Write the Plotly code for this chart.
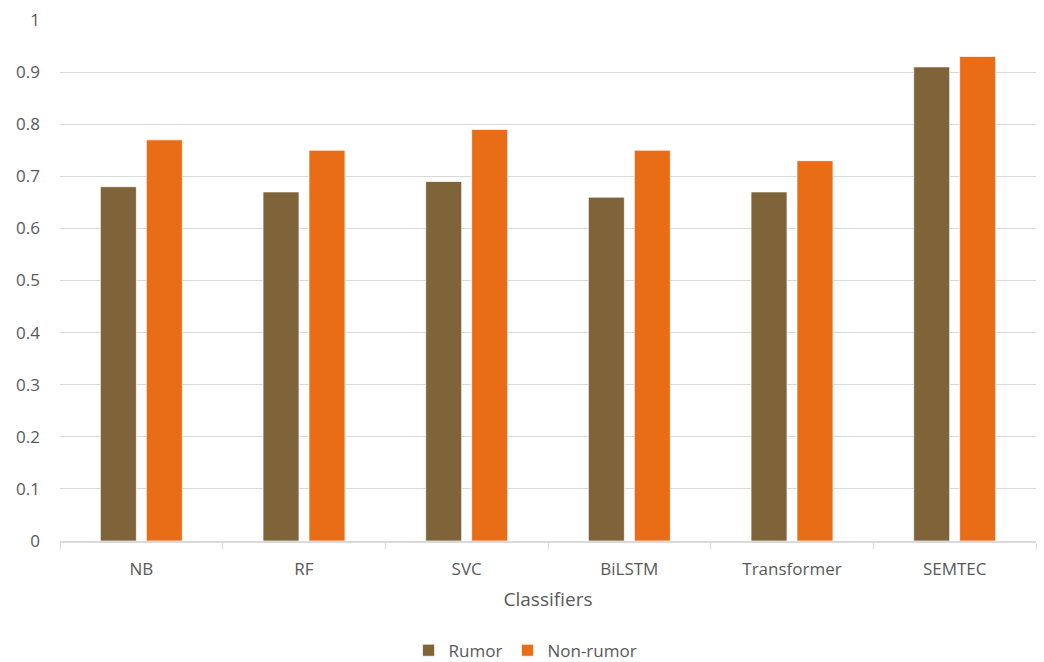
import plotly.graph_objects as go

classifiers = ["NB", "RF", "SVC", "BiLSTM", "Transformer", "SEMTEC"]
rumor = [0.68, 0.67, 0.69, 0.66, 0.67, 0.91]
non_rumor = [0.77, 0.75, 0.79, 0.75, 0.73, 0.93]
y_ticks = [0, 0.1, 0.2, 0.3, 0.4, 0.5, 0.6, 0.7, 0.8, 0.9, 1]
y_tick_text = ["0", "0.1", "0.2", "0.3", "0.4", "0.5", "0.6", "0.7", "0.8", "0.9", "1"]

FONT = "Open Sans"
TEXT = "#595959"
GRID = "#d9d9d9"

fig = go.Figure()
fig.add_trace(go.Bar(name="Rumor", x=classifiers, y=rumor,
                     marker=dict(color="#7f6339", line=dict(color="#ffffff", width=0.7))))
fig.add_trace(go.Bar(name="Non-rumor", x=classifiers, y=non_rumor,
                     marker=dict(color="#e96c17", line=dict(color="#ffffff", width=0.7))))

fig.update_layout(
    width=1044, height=662,
    margin=dict(l=60, r=8, t=20, b=121, autoexpand=False),
    paper_bgcolor="white", plot_bgcolor="white",
    barmode="group", bargap=0.435, bargroupgap=0.217,
    font=dict(family=FONT, color=TEXT, size=17),
    showlegend=True,
    legend=dict(orientation="h", x=0.477, xanchor="center", y=-0.176, yanchor="top",
                font=dict(size=17, color=TEXT), itemwidth=30, traceorder="normal"),
)
fig.update_yaxes(range=[0, 1], tickvals=y_ticks, ticktext=y_tick_text,
                 showgrid=True, gridcolor=GRID, gridwidth=1,
                 zeroline=False, showline=False, ticks="", automargin=False,
                 ticklabelstandoff=19, tickfont=dict(size=17, color=TEXT))
fig.update_xaxes(title=dict(text="Classifiers", font=dict(size=19, color=TEXT), standoff=14),
                 showline=True, linecolor=GRID, linewidth=1.5, automargin=False,
                 ticks="outside", tickson="boundaries", ticklen=6, tickcolor=GRID,
                 ticklabelstandoff=12, tickfont=dict(size=17, color=TEXT))

fig.write_html("out.html")
